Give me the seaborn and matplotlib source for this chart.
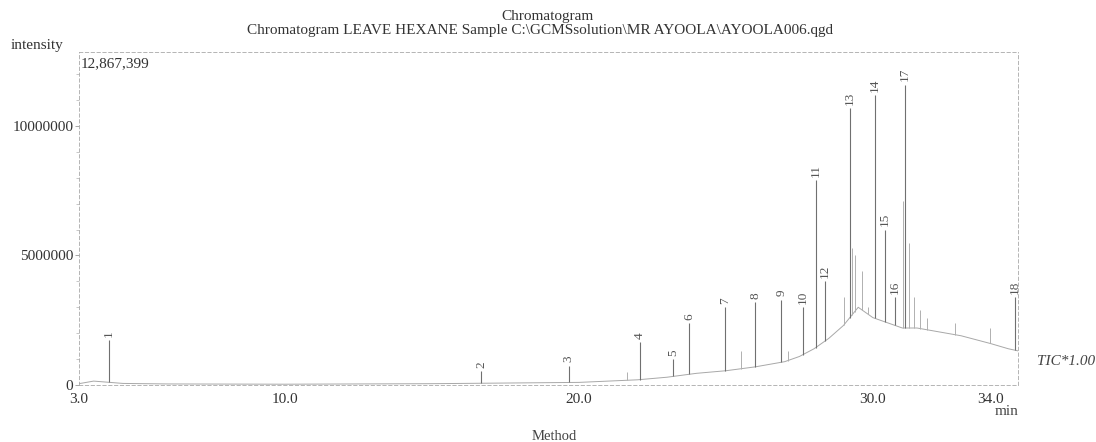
import numpy as np
import pandas as pd
import matplotlib.pyplot as plt
import seaborn as sns

# labelled peaks: retention time (min), apex intensity
peak_no = list(range(1, 19))
peak_rt = [4.02, 16.69, 19.66, 22.08, 23.20, 23.75, 24.98, 26.00, 26.89,
           27.61, 28.05, 28.36, 29.21, 30.06, 30.41, 30.75, 31.09, 34.84]
peak_int = [1.73e6, 0.55e6, 0.75e6, 1.65e6, 1.0e6, 2.4e6, 3.0e6, 3.2e6, 3.3e6,
            3.0e6, 7.9e6, 4.0e6, 10.7e6, 11.2e6, 6.0e6, 3.4e6, 11.6e6, 3.4e6]

# small unlabelled peaks
minor_rt = [21.63, 25.53, 27.10, 29.01, 29.28, 29.38, 29.62, 29.83, 31.02,
            31.23, 31.40, 31.60, 31.84, 32.80, 33.99]
minor_int = [0.5e6, 1.3e6, 1.3e6, 3.4e6, 5.3e6, 5.0e6, 4.4e6, 3.0e6, 7.1e6,
             5.5e6, 3.4e6, 2.9e6, 2.6e6, 2.4e6, 2.2e6]

# baseline
base_rt = [3.0, 3.5, 4.5, 6.0, 10.0, 15.0, 18.0, 20.0, 21.0, 22.0, 23.0, 24.0,
           25.0, 26.0, 27.0, 27.5, 28.0, 28.5, 29.0, 29.5, 30.0, 30.5, 31.0,
           31.5, 32.0, 33.0, 34.0, 34.6, 35.0]
base_int = [0.05e6, 0.15e6, 0.06e6, 0.04e6, 0.03e6, 0.05e6, 0.08e6, 0.1e6,
            0.15e6, 0.2e6, 0.3e6, 0.45e6, 0.55e6, 0.7e6, 0.9e6, 1.1e6, 1.4e6,
            1.8e6, 2.3e6, 3.0e6, 2.6e6, 2.4e6, 2.2e6, 2.2e6, 2.1e6, 1.9e6,
            1.6e6, 1.4e6, 1.3e6]

y_max = 12867399

sns.set_theme(style="white")
plt.rcParams['font.family'] = ['Liberation Serif', 'DejaVu Serif']

fig = plt.figure(figsize=(10.96, 4.42), dpi=100)
ax = fig.add_axes([0.072, 0.129, 0.857, 0.754])

base = pd.DataFrame({'rt': base_rt, 'intensity': base_int})
sns.lineplot(data=base, x='rt', y='intensity', ax=ax, color='#a8a8a8', lw=0.7)

# sticks for the peaks, standing on the baseline
ax.vlines(minor_rt, np.interp(minor_rt, base_rt, base_int), minor_int,
          color='#b0b0b0', lw=0.7)
ax.vlines(peak_rt, np.interp(peak_rt, base_rt, base_int), peak_int,
          color='#707070', lw=0.8)

for n, t, h in zip(peak_no, peak_rt, peak_int):
    ax.text(t, h + 0.12e6, str(n), rotation=90, ha='center', va='bottom',
            fontsize=9.5, color='#555555', clip_on=False)

ax.set_xlim(3.0, 34.94)
ax.set_ylim(0, y_max)
ax.set_xticks([3.0, 10.0, 20.0, 30.0, 34.0])
ax.set_xticklabels(['3.0', '10.0', '20.0', '30.0', '34.0'])
ax.set_yticks([0, 5000000, 10000000])
ax.set_yticklabels(['0', '5000000', '10000000'])
ax.set_yticks(np.arange(0, y_max, 1000000), minor=True)
ax.tick_params(axis='y', which='major', length=3, width=0.6, color='#999999',
               labelsize=11, pad=1, left=True, labelcolor='#333333')
ax.tick_params(axis='y', which='minor', length=2, width=0.5, color='#b0b0b0', left=True)
ax.tick_params(axis='x', length=0, labelsize=11, pad=6, labelcolor='#333333')
ax.set_xlabel('')
ax.set_ylabel('')

for s in ax.spines.values():
    s.set_visible(True)
    s.set_linestyle((0, (4, 3)))
    s.set_linewidth(0.6)
    s.set_color('#a8a8a8')

ax.text(0.002, 0.985, '12,867,399', transform=ax.transAxes, ha='left', va='top',
        fontsize=11, color='#333333')

fig.text(0.50, 0.963, 'Chromatogram', ha='center', va='center', fontsize=11, color='#333333')
fig.text(0.493, 0.930, 'Chromatogram LEAVE HEXANE Sample C:\\GCMSsolution\\MR AYOOLA\\AYOOLA006.qgd',
         ha='center', va='center', fontsize=11, color='#333333')
fig.text(0.010, 0.896, 'intensity', ha='left', va='center', fontsize=11, color='#333333')
fig.text(0.946, 0.181, 'TIC*1.00', ha='left', va='center', fontsize=11,
         style='italic', color='#444444')
fig.text(0.929, 0.070, 'min', ha='right', va='center', fontsize=11, color='#444444')
fig.text(0.506, 0.012, 'Method', ha='center', va='center', fontsize=10.5, color='#444444')

fig.savefig('out.png', dpi=100, facecolor='white')
